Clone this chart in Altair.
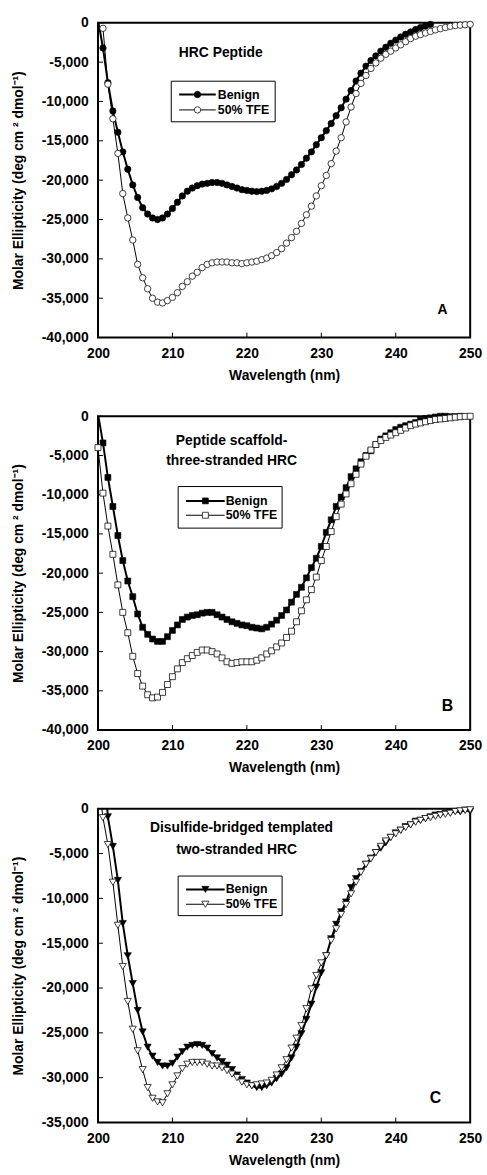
import altair as alt
import pandas as pd

FONT = "Liberation Sans"

# Sampling grid of the CD scans (nm), every 2/3 nm from 200 to 250
wavelength = [round(200 + 2 * k / 3, 2) for k in range(76)]

# Molar ellipticity (deg cm2 dmol-1); None where the scan has no point
a_benign = [400, -3200, -7600, -11200, -13900, -16400, -18600, -20600, -22200, -23500,
            -24300, -24800, -25000, -24800, -24300, -23600, -22800, -22000, -21400, -21000,
            -20700, -20500, -20400, -20300, -20300, -20400, -20600, -20800, -21000, -21200,
            -21300, -21400, -21450, -21400, -21300, -21100, -20800, -20400, -19900, -19300,
            -18700, -18000, -17200, -16400, -15500, -14600, -13700, -12800, -11800, -10800,
            -9700, -8600, -7400, -6400, -5500, -4800, -4200, -3600, -3100, -2600,
            -2200, -1800, -1450, -1150, -850, -600, -400, -200, None, None,
            None, None, None, None, None, None]
a_tfe = [None, -700, -7800, -12200, -16600, -21700, -24800, -27600, -30700, -32400,
         -33800, -35000, -35500, -35600, -35300, -34900, -34300, -33500, -32900, -32200,
         -31700, -31100, -30700, -30500, -30400, -30400, -30400, -30500, -30500, -30600,
         -30500, -30400, -30300, -30100, -29900, -29600, -29200, -28700, -28000, -27300,
         -26500, -25500, -24400, -23300, -22000, -20700, -19400, -17900, -16300, -14600,
         -12600, -10700, -9000, -7700, -6700, -5800, -5100, -4500, -4000, -3600,
         -3200, -2800, -2400, -2000, -1700, -1500, -1300, -1100, -900, -750,
         -600, -450, -350, -300, -250, -200]

b_benign = [300, -3400, -7800, -11500, -15200, -18400, -21000, -23000, -25200, -26900,
            -27800, -28400, -28700, -28700, -28100, -27300, -26600, -25900, -25600, -25400,
            -25300, -25100, -25000, -25000, -25300, -25600, -25900, -26200, -26400, -26600,
            -26700, -26900, -27000, -27100, -26900, -26500, -26000, -25400, -24700, -23700,
            -22700, -21800, -20600, -19300, -18100, -16600, -14800, -13200, -11500, -10300,
            -9100, -7700, -6700, -5800, -5000, -4400, -3600, -2900, -2500, -2100,
            -1700, -1400, -1200, -1000, -800, -500, -300, -200, -100, 0,
            0, -50, -50, 0, None, None]
b_tfe = [-4000, -9800, -14000, -17600, -21500, -25000, -27600, -30600, -32800, -34400,
         -35500, -35900, -35800, -35200, -34200, -33200, -32200, -31400, -30900, -30500,
         -30100, -29800, -29800, -30000, -30300, -30800, -31300, -31500, -31400, -31300,
         -31300, -31300, -31100, -30800, -30300, -29900, -29400, -28900, -28200, -27400,
         -26200, -24800, -23400, -22100, -20500, -18400, -16600, -14700, -12800, -11200,
         -9900, -8600, -7400, -6100, -5100, -4300, -3600, -3100, -2700, -2400,
         -2100, -1800, -1500, -1200, -1000, -850, -700, -550, -420, -350,
         -280, -200, -120, -60, -20, 0]

c_benign = [None, 6000, -900, -4200, -8000, -12800, -16400, -19500, -22500, -24900,
            -26600, -27600, -28300, -28700, -28700, -28400, -27700, -27100, -26600, -26400,
            -26300, -26400, -26700, -27300, -27800, -28200, -28600, -29100, -29700, -30200,
            -30600, -30900, -31100, -31100, -30900, -30600, -30100, -29600, -28900, -27800,
            -26600, -25100, -23500, -21800, -19900, -18300, -16400, -14500, -12900, -11500,
            -10400, -8800, -7800, -7000, -6200, -5500, -4900, -4400, -3800, -3200,
            -2700, -2400, -2000, -1800, -1400, -1300, -1100, -900, -700, -650,
            -500, -450, -300, -350, -150, -300]
c_tfe = [3500, -1000, -4000, -8200, -13000, -17600, -21500, -24600, -27000, -29100,
         -31100, -32300, -32700, -32800, -31800, -30800, -29800, -29000, -28500, -28300,
         -28300, -28300, -28500, -28700, -28700, -28900, -29200, -29600, -30000, -30500,
         -30800, -30900, -30800, -30700, -30600, -30300, -29700, -28900, -28000, -26700,
         -25600, -24200, -22300, -20100, -18600, -17200, -16400, -14700, -13400, -11800,
         -10700, -9500, -8200, -7100, -6200, -5600, -4900, -4200, -3600, -3200,
         -2800, -2400, -2100, -1800, -1500, -1300, -1100, -1000, -850, -720,
         -620, -500, -320, -240, -180, -120]

x_ticks = [200, 210, 220, 230, 240, 250]
y_ticks_40 = [0, -5000, -10000, -15000, -20000, -25000, -30000, -35000, -40000]
y_ticks_35 = [0, -5000, -10000, -15000, -20000, -25000, -30000, -35000]
legend_labels = ["Benign", "50% TFE"]
y_title = "Molar Ellipticity (deg cm \u00b2 dmol\u207b\u00b9)"
x_title = "Wavelength (nm)"

one = pd.DataFrame({"k": [0]})


def frame(values):
    rows = [(w, v) for w, v in zip(wavelength, values) if v is not None]
    return pd.DataFrame({"nm": [r[0] for r in rows], "v": [r[1] for r in rows]})


def label(text, x, y, size, align="center"):
    return alt.Chart(one).mark_text(
        text=text, font=FONT, fontSize=size, fontWeight="bold", align=align,
        baseline="middle", color="black"
    ).encode(x=alt.value(x), y=alt.value(y))


def marker(shape, size, filled_black):
    if filled_black:
        return dict(shape=shape, size=size, filled=True, fill="black", stroke="black",
                    strokeWidth=0.6, opacity=1)
    return dict(shape=shape, size=size, filled=True, fill="white", stroke="#111111",
                strokeWidth=0.8, opacity=1)


def panel(benign, tfe, shape, size, ymin, yticks, height, titles, letter, legend):
    x_enc = alt.X("nm:Q", scale=alt.Scale(domain=[200, 250], nice=False, zero=False),
                  axis=alt.Axis(values=x_ticks, title=x_title, format="d", labelFlush=False,
                                labelPadding=9, titlePadding=8))
    y_enc = alt.Y("v:Q", scale=alt.Scale(domain=[ymin, 0], nice=False, zero=False),
                  axis=alt.Axis(values=yticks, title=y_title, labelFlush=False,
                                labelExpr="replace(format(datum.value, ','), '\u2212', '-')",
                                labelPadding=10, titlePadding=16))
    b = frame(benign)
    t = frame(tfe)
    layers = [
        alt.Chart(pd.DataFrame({"v": yticks})).mark_rule(color="black", strokeWidth=1)
        .encode(y=y_enc, x=alt.value(0), x2=alt.value(5)),
        alt.Chart(pd.DataFrame({"nm": x_ticks[1:-1]})).mark_rule(color="black", strokeWidth=1)
        .encode(x=x_enc, y=alt.value(height), y2=alt.value(height - 5)),
        alt.Chart(b).mark_line(clip=True, color="black", strokeWidth=2).encode(x=x_enc, y=y_enc),
        alt.Chart(t).mark_line(clip=True, color="black", strokeWidth=1).encode(x=x_enc, y=y_enc),
        alt.Chart(b).transform_filter("datum.v <= 0")
        .mark_point(**marker(shape, size, True)).encode(x=x_enc, y=y_enc),
        alt.Chart(t).transform_filter("datum.v <= 0")
        .mark_point(**marker(shape, size, False)).encode(x=x_enc, y=y_enc),
    ]
    for text, tx, ty in titles:
        layers.append(label(text, tx, ty, 14))
    lt, lx, ly, lsize = letter
    layers.append(label(lt, lx, ly, lsize))

    bx0, bx1, by0, by1, rows, lx0, lx1, tx = legend
    layers.append(alt.Chart(one).mark_rect(fill="white", stroke="black", strokeWidth=1)
                  .encode(x=alt.value(bx0), x2=alt.value(bx1), y=alt.value(by0), y2=alt.value(by1)))
    for i, (ry, name) in enumerate(zip(rows, legend_labels)):
        layers.append(alt.Chart(one).mark_rule(color="black", strokeWidth=2 if i == 0 else 1)
                      .encode(x=alt.value(lx0), x2=alt.value(lx1), y=alt.value(ry)))
        layers.append(alt.Chart(one).mark_point(**marker(shape, size, i == 0))
                      .encode(x=alt.value((lx0 + lx1) / 2), y=alt.value(ry)))
        layers.append(label(name, tx, ry, 12.5, align="left"))
    return alt.layer(*layers).properties(width=376, height=height)


panel_a = panel(a_benign, a_tfe, "circle", 42, -40000, y_ticks_40, 318,
                [("HRC Peptide", 124, 31)],
                ("A", 348, 290, 14),
                (74, 179, 59, 100, [72.5, 88], 82, 119, 121))
panel_b = panel(b_benign, b_tfe, "square", 36, -40000, y_ticks_40, 317,
                [("Peptide scaffold-", 135, 25), ("three-stranded HRC", 135, 45)],
                ("B", 353, 293, 16),
                (81, 186, 71, 113, [85.5, 100], 89, 128, 129))
panel_c = panel(c_benign, c_tfe, "triangle-down", 52, -35000, y_ticks_35, 317,
                [("Disulfide-bridged templated", 145, 20), ("two-stranded HRC", 140, 42)],
                ("C", 341, 292, 16),
                (81, 186, 68, 108, [81.5, 96.5], 89, 128, 129))

chart = (
    alt.vconcat(panel_a, panel_b, panel_c, spacing=79.5, bounds="flush")
    .properties(padding={"left": 10, "top": 9, "right": 4, "bottom": 2}, background="white")
    .configure_view(stroke="black", strokeWidth=2)
    .configure_axis(domain=False, ticks=False, grid=False,
                    labelFont=FONT, labelFontSize=14, labelFontWeight="bold", labelColor="black",
                    titleFont=FONT, titleFontSize=14, titleFontWeight="bold", titleColor="black")
)

chart.save("out.html", embed_options={"renderer": "svg", "actions": False})
